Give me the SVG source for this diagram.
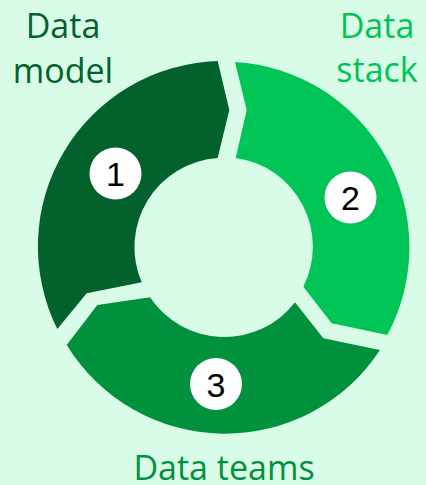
<svg xmlns="http://www.w3.org/2000/svg" width="426" height="485" viewBox="0 0 426 485">
  <style>
    .seg1 { fill: #03612b; }
    .seg2 { fill: #00c456; }
    .seg3 { fill: #00913d; }
    .badge { fill: #ffffff; }
    .num { font-family: "Liberation Sans", Arial, sans-serif; font-size: 34px; fill: #000000; text-anchor: middle; }
    .label { font-family: "Open Sans", "Noto Sans", sans-serif; font-size: 34px; text-anchor: middle; }
  </style>
  <rect width="426" height="485" fill="#d9fce8"/>

  <!-- Ring segments, clockwise: model -> stack -> teams -->
  <g id="data-model">
    <path class="seg1" d="M 57.3,329 A 185.5 185.5 0 0 1 217.7,61 L 229.3,110 L 217.7,158 A 89.3 89.3 0 0 0 141.7,282.3 L 86.7,293.3 Z"/>
    <circle class="badge" cx="115.5" cy="173.5" r="26"/>
    <text class="num" x="115.5" y="186">1</text>
    <text class="label" x="63" y="37.5" fill="#03612b">Data</text>
    <text class="label" x="63" y="82.5" fill="#03612b">model</text>
  </g>

  <g id="data-stack">
    <path class="seg2" d="M 235,62 A 185.5 185.5 0 0 1 387.3,335 L 331.7,323.3 L 303.3,286.7 A 89.3 89.3 0 0 0 235.7,158 L 246.7,110 Z"/>
    <circle class="badge" cx="350.5" cy="197.5" r="26"/>
    <text class="num" x="350.5" y="210">2</text>
    <text class="label" x="377" y="37.5" fill="#00c456">Data</text>
    <text class="label" x="377" y="82" fill="#00c456">stack</text>
  </g>

  <g id="data-teams">
    <path class="seg3" d="M 380,350 A 185.5 185.5 0 0 1 66.7,345 L 97.3,305 L 150,297.3 A 89.3 89.3 0 0 0 295,302.3 L 323.3,338.3 Z"/>
    <circle class="badge" cx="216" cy="384" r="26"/>
    <text class="num" x="216" y="396.5">3</text>
    <text class="label" x="224" y="479.5" fill="#00913d">Data teams</text>
  </g>

  <g id="connectors"></g>
</svg>
